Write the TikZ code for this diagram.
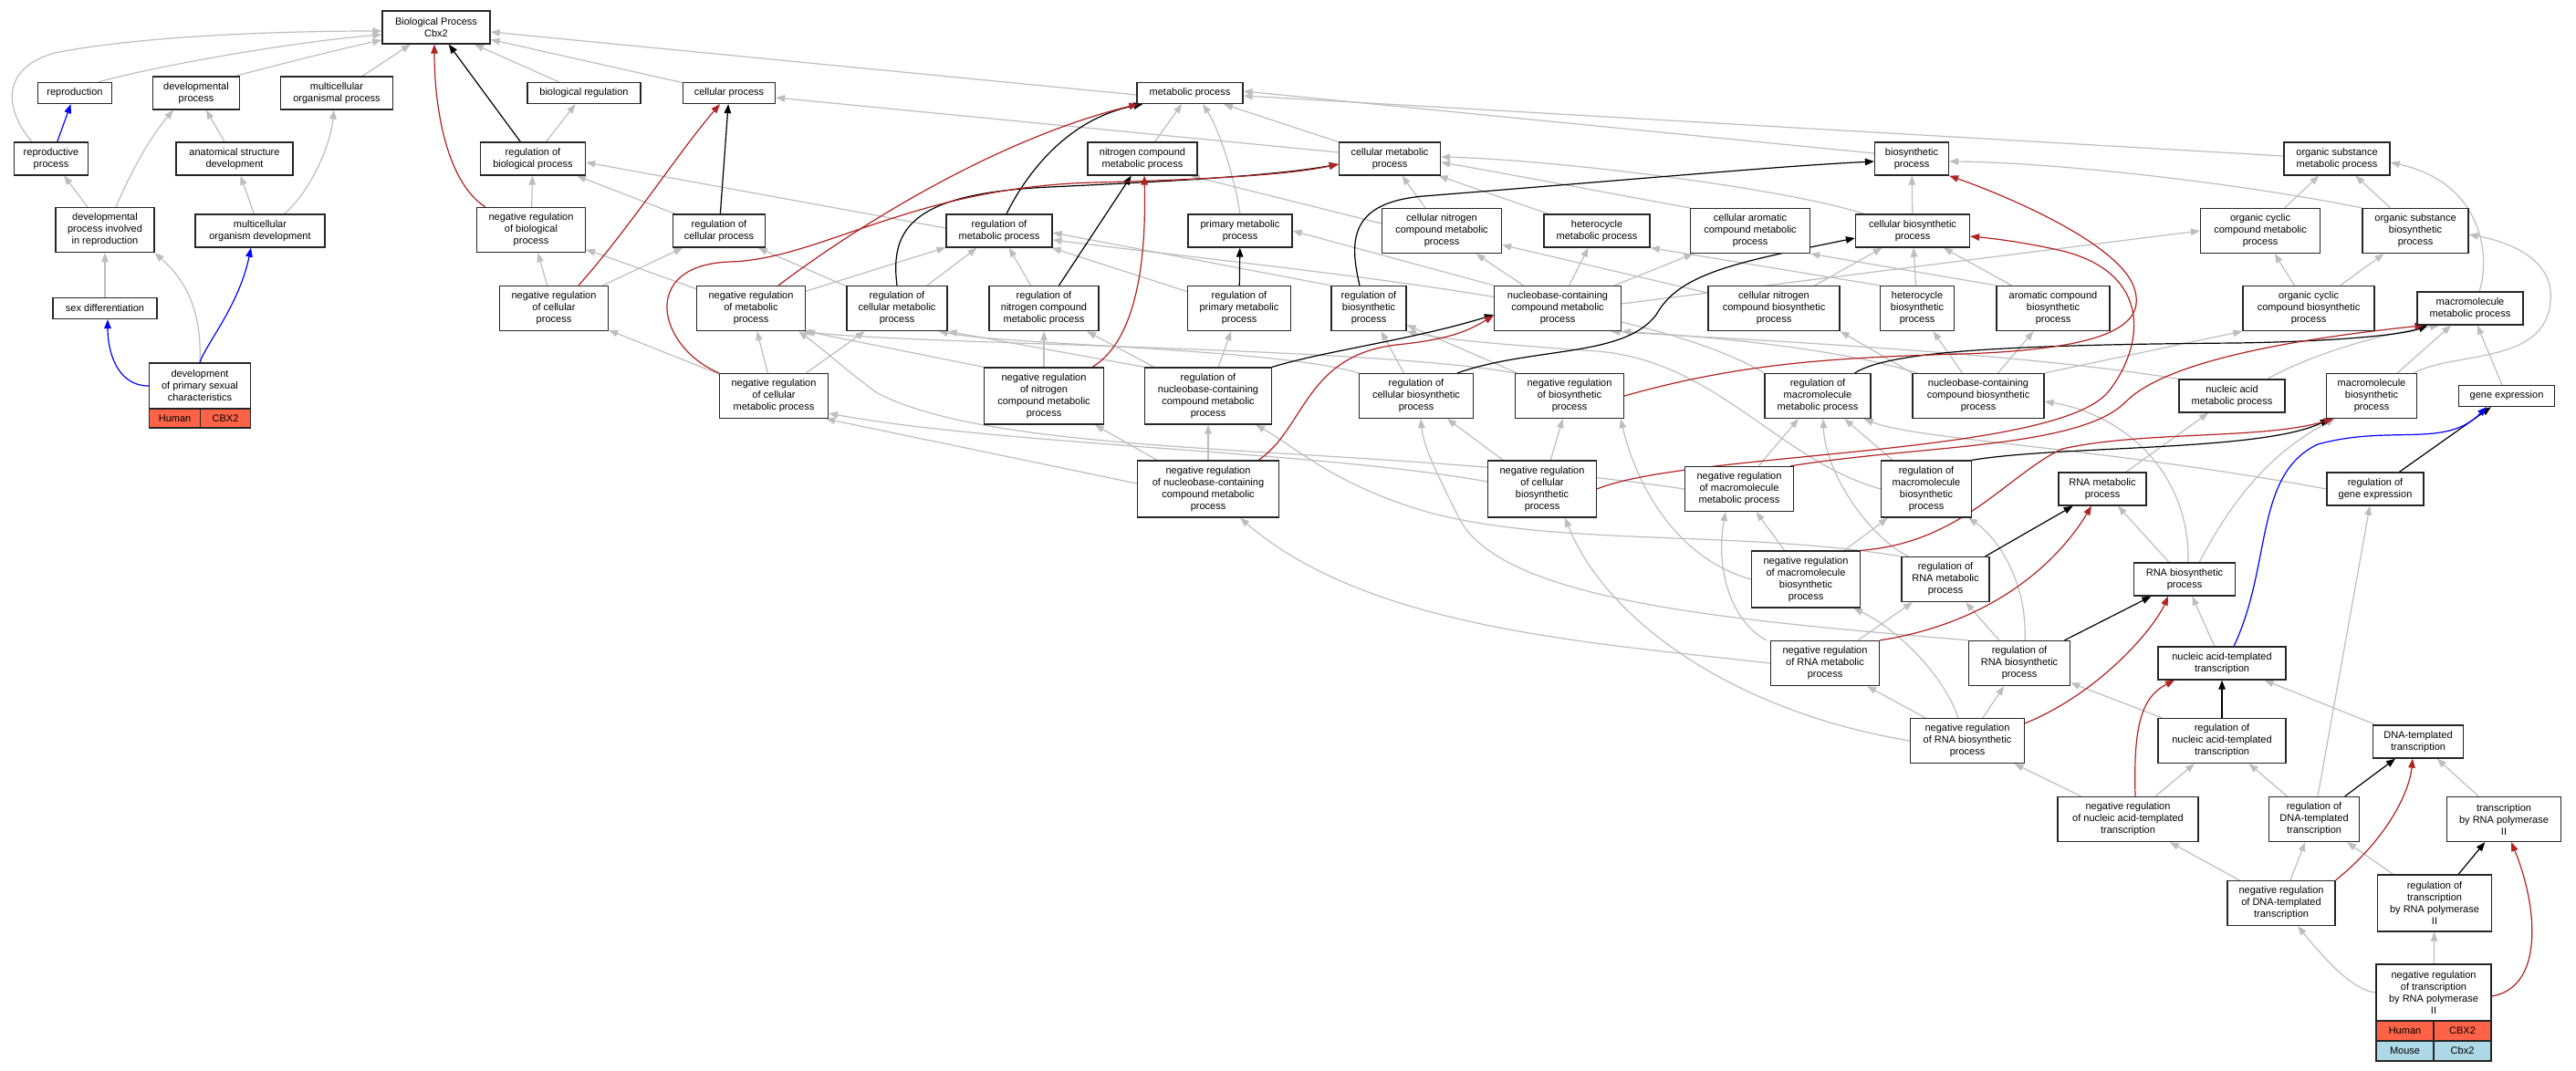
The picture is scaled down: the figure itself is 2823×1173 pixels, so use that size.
\documentclass[tikz,border=0pt]{standalone}
\usepackage{fontspec}
\setmainfont{Liberation Sans}
\usetikzlibrary{arrows.meta}
\usetikzlibrary{backgrounds}
\definecolor{isagray}{HTML}{BEBEBE}
\definecolor{firebrick}{HTML}{B22222}
\definecolor{humancell}{HTML}{FF6347}
\definecolor{mousecell}{HTML}{ADD8E6}

\begin{document}
\begin{tikzpicture}[>={Triangle[length=10pt,width=7.5pt]}, x=1pt, y=-1pt,
  term/.style={draw=black!85, line width=1.3pt, fill=white, align=center, inner sep=0pt, font={\fontsize{11}{13}\selectfont}},
  isa/.style={->, isagray, line width=1.2pt},
  reg/.style={->, black, line width=1.2pt},
  negreg/.style={->, firebrick, line width=1.2pt},
  partof/.style={->, blue, line width=1.2pt}]
  \useasboundingbox (0,0) rectangle (2823,1173);

  % left part
  \node[term, minimum width=118pt, minimum height=36pt] (bp) at (478,30) {Biological Process\\Cbx2};
  \node[term, minimum width=81pt, minimum height=23pt] (repro) at (82,102) {reproduction};
  \node[term, minimum width=95pt, minimum height=36pt] (devp) at (215,102) {developmental\\process};
  \node[term, minimum width=123pt, minimum height=36pt] (mop) at (369,102) {multicellular\\organismal process};
  \node[term, minimum width=81pt, minimum height=36pt] (reprop) at (56,174) {reproductive\\process};
  \node[term, minimum width=128pt, minimum height=36pt] (asd) at (257,174) {anatomical structure\\development};
  \node[term, minimum width=108pt, minimum height=49pt] (dpir) at (115,252) {developmental\\process involved\\in reproduction};
  \node[term, minimum width=142pt, minimum height=36pt] (mod) at (285,253) {multicellular\\organism development};
  \node[term, minimum width=114pt, minimum height=23pt] (sexd) at (115,338) {sex differentiation};
  \node[term, minimum width=111pt, minimum height=50pt] (dpsc) at (219,423) {development\\of primary sexual\\characteristics};
  \node[term, fill=humancell, minimum width=56pt, minimum height=21pt] (dpschuman) at (191.6,458.5) {Human};
  \node[term, fill=humancell, minimum width=55pt, minimum height=21pt] (dpscgene) at (247,458.5) {CBX2};

  % regulation of biological process
  \node[term, minimum width=124pt, minimum height=23pt] (breg) at (640,102) {biological regulation};
  \node[term, minimum width=101pt, minimum height=23pt] (cellp) at (799,102) {cellular process};
  \node[term, minimum width=115pt, minimum height=36pt] (rbp) at (584,174) {regulation of\\biological process};
  \node[term, minimum width=119pt, minimum height=49pt] (nrbp) at (582,252) {negative regulation\\of biological\\process};
  \node[term, minimum width=101pt, minimum height=36pt] (rcp) at (788,253) {regulation of\\cellular process};
  \node[term, minimum width=119pt, minimum height=49pt] (nrcp) at (607,338) {negative regulation\\of cellular\\process};
  \node[term, minimum width=119pt, minimum height=49pt] (nrmp) at (823,338) {negative regulation\\of metabolic\\process};
  \node[term, minimum width=110pt, minimum height=49pt] (rcmp) at (983,338) {regulation of\\cellular metabolic\\process};
  \node[term, minimum width=119pt, minimum height=49pt] (nrcmp) at (848,434) {negative regulation\\of cellular\\metabolic process};

  % metabolism
  \node[term, minimum width=116pt, minimum height=23pt] (metp) at (1304,102) {metabolic process};
  \node[term, minimum width=120pt, minimum height=36pt] (ncmp) at (1252,174) {nitrogen compound\\metabolic process};
  \node[term, minimum width=111pt, minimum height=36pt] (cmp) at (1523,174) {cellular metabolic\\process};
  \node[term, minimum width=116pt, minimum height=36pt] (rmp) at (1095,253) {regulation of\\metabolic process};
  \node[term, minimum width=114pt, minimum height=36pt] (pmp) at (1359,253) {primary metabolic\\process};
  \node[term, minimum width=131pt, minimum height=49pt] (cncmp) at (1580,253) {cellular nitrogen\\compound metabolic\\process};
  \node[term, minimum width=120pt, minimum height=49pt] (rncmp) at (1144,338) {regulation of\\nitrogen compound\\metabolic process};
  \node[term, minimum width=113pt, minimum height=49pt] (rpmp) at (1358,338) {regulation of\\primary metabolic\\process};
  \node[term, minimum width=82pt, minimum height=49pt] (rbsp) at (1500,338) {regulation of\\biosynthetic\\process};
  \node[term, minimum width=131pt, minimum height=62pt] (nrncmp) at (1144,434) {negative regulation\\of nitrogen\\compound metabolic\\process};
  \node[term, minimum width=139pt, minimum height=62pt] (rnbcmp) at (1324,434) {regulation of\\nucleobase-containing\\compound metabolic\\process};
  \node[term, minimum width=125pt, minimum height=49pt] (rcbsp) at (1552,434) {regulation of\\cellular biosynthetic\\process};
  \node[term, minimum width=116pt, minimum height=36pt] (hmp) at (1750,253) {heterocycle\\metabolic process};
  \node[term, minimum width=131pt, minimum height=49pt] (cacmp) at (1918,253) {cellular aromatic\\compound metabolic\\process};
  \node[term, minimum width=81pt, minimum height=36pt] (bsp) at (2095,174) {biosynthetic\\process};
  \node[term, minimum width=139pt, minimum height=49pt] (nbcmp) at (1707,338) {nucleobase-containing\\compound metabolic\\process};
  \node[term, minimum width=144pt, minimum height=49pt] (cncbp) at (1944,338) {cellular nitrogen\\compound biosynthetic\\process};
  \node[term, minimum width=125pt, minimum height=36pt] (cbsp) at (2096,253) {cellular biosynthetic\\process};
  \node[term, minimum width=119pt, minimum height=49pt] (nrbsp) at (1720,434) {negative regulation\\of biosynthetic\\process};
  \node[term, minimum width=116pt, minimum height=49pt] (rmmp) at (1992,434) {regulation of\\macromolecule\\metabolic process};
  \node[term, minimum width=116pt, minimum height=36pt] (osmp) at (2561,174) {organic substance\\metabolic process};
  \node[term, minimum width=131pt, minimum height=49pt] (occmp) at (2477,253) {organic cyclic\\compound metabolic\\process};
  \node[term, minimum width=116pt, minimum height=49pt] (osbp) at (2647,253) {organic substance\\biosynthetic\\process};
  \node[term, minimum width=81pt, minimum height=49pt] (hbp) at (2101,338) {heterocycle\\biosynthetic\\process};
  \node[term, minimum width=124pt, minimum height=49pt] (acbp) at (2250,338) {aromatic compound\\biosynthetic\\process};
  \node[term, minimum width=144pt, minimum height=49pt] (occbp) at (2530,338) {organic cyclic\\compound biosynthetic\\process};
  \node[term, minimum width=116pt, minimum height=36pt] (mmp) at (2707,338) {macromolecule\\metabolic process};
  \node[term, minimum width=144pt, minimum height=49pt] (nbcbp) at (2168,434) {nucleobase-containing\\compound biosynthetic\\process};
  \node[term, minimum width=116pt, minimum height=36pt] (namp) at (2446,434) {nucleic acid\\metabolic process};
  \node[term, minimum width=99pt, minimum height=49pt] (mbp) at (2599,434) {macromolecule\\biosynthetic\\process};
  \node[term, minimum width=105pt, minimum height=23pt] (gexp) at (2747,434) {gene expression};

  % negative regulation and transcription
  \node[term, minimum width=155pt, minimum height=62pt] (nrnbcmp) at (1324,536) {negative regulation\\of nucleobase-containing\\compound metabolic\\process};
  \node[term, minimum width=119pt, minimum height=62pt] (nrcbsp) at (1690,536) {negative regulation\\of cellular\\biosynthetic\\process};
  \node[term, minimum width=119pt, minimum height=49pt] (nrmmp) at (1906,536) {negative regulation\\of macromolecule\\metabolic process};
  \node[term, minimum width=99pt, minimum height=62pt] (rmbp) at (2111,536) {regulation of\\macromolecule\\biosynthetic\\process};
  \node[term, minimum width=96pt, minimum height=36pt] (rnamp) at (2304,536) {RNA metabolic\\process};
  \node[term, minimum width=106pt, minimum height=36pt] (rgexp) at (2603,536) {regulation of\\gene expression};
  \node[term, minimum width=119pt, minimum height=62pt] (nrmbp) at (1979,635) {negative regulation\\of macromolecule\\biosynthetic\\process};
  \node[term, minimum width=96pt, minimum height=49pt] (rrmp) at (2132,635) {regulation of\\RNA metabolic\\process};
  \node[term, minimum width=111pt, minimum height=36pt] (rnabp) at (2394,635) {RNA biosynthetic\\process};
  \node[term, minimum width=119pt, minimum height=49pt] (nrrmp) at (2000,727) {negative regulation\\of RNA metabolic\\process};
  \node[term, minimum width=111pt, minimum height=49pt] (rrbp) at (2213,727) {regulation of\\RNA biosynthetic\\process};
  \node[term, minimum width=140pt, minimum height=36pt] (natt) at (2435,727) {nucleic acid-templated\\transcription};
  \node[term, minimum width=125pt, minimum height=49pt] (nrrbp) at (2156,812) {negative regulation\\of RNA biosynthetic\\process};
  \node[term, minimum width=140pt, minimum height=49pt] (rnatt) at (2435,812) {regulation of\\nucleic acid-templated\\transcription};
  \node[term, minimum width=99pt, minimum height=36pt] (dtt) at (2650,813) {DNA-templated\\transcription};
  \node[term, minimum width=154pt, minimum height=49pt] (nrnatt) at (2332,898) {negative regulation\\of nucleic acid-templated\\transcription};
  \node[term, minimum width=99pt, minimum height=49pt] (rdtt) at (2536,898) {regulation of\\DNA-templated\\transcription};
  \node[term, minimum width=125pt, minimum height=49pt] (trp2) at (2744,898) {transcription\\by RNA polymerase\\II};
  \node[term, minimum width=118pt, minimum height=49pt] (nrdtt) at (2500,990) {negative regulation\\of DNA-templated\\transcription};
  \node[term, minimum width=125pt, minimum height=62pt] (rtrp2) at (2668,990) {regulation of\\transcription\\by RNA polymerase\\II};
  \node[term, minimum width=126pt, minimum height=62pt] (nrtrp2) at (2667,1088) {negative regulation\\of transcription\\by RNA polymerase\\II};
  \node[term, fill=humancell, minimum width=63pt, minimum height=22pt] (nrtrp2human) at (2635.5,1130) {Human};
  \node[term, fill=humancell, minimum width=63pt, minimum height=22pt] (nrtrp2gene) at (2698.5,1130) {CBX2};
  \node[term, fill=mousecell, minimum width=63pt, minimum height=22pt] (nrtrp2mouse) at (2635.5,1152) {Mouse};
  \node[term, fill=mousecell, minimum width=63pt, minimum height=22pt] (nrtrp2mgene) at (2698.5,1152) {Cbx2};

  \begin{scope}[on background layer]
  \fill[white] (0,0) rectangle (2823,1173);
  % is_a
  \draw[isa] ([xshift=-15pt]repro.north east) .. controls (180,70) and (330,45) .. ([yshift=-8pt]bp.west);
  \draw[isa] ([xshift=20pt]reprop.north west) .. controls (5,120) and (0,75) .. (60,58) .. controls (150,40) and (300,34) .. ([yshift=-4pt]bp.west);
  \draw[isa] ([xshift=-5pt]devp.north east) .. controls (300,72) and (380,52) .. ([yshift=-14pt]bp.west);
  \draw[isa] (mop) -- (bp);
  \draw[isa] (dpir) -- (reprop);
  \draw[isa] ([xshift=12pt]dpir.north) .. controls (145,185) and (165,150) .. ([xshift=-25pt]devp.south);
  \draw[isa] (asd) -- (devp);
  \draw[isa] (mod) -- (asd);
  \draw[isa] ([xshift=-45pt]mod.north east) .. controls (340,210) and (362,160) .. ([xshift=-3pt]mop.south);
  \draw[isa] (sexd) -- (dpir);
  \draw[isa] (dpsc.north) .. controls (222,330) and (195,300) .. (dpir.south east);
  \draw[isa] (breg) -- (bp);
  \draw[isa] (cellp) -- (bp);
  \draw[isa] ([yshift=-2pt]metp.west) -- ([yshift=-5pt]bp.east);
  \draw[isa] (rbp) -- (breg);
  \draw[isa] (nrbp) -- (rbp);
  \draw[isa] (rcp) -- (rbp);
  \draw[isa] (nrcp) -- (nrbp);
  \draw[isa] (nrcp) -- (rcp);
  \draw[isa] (nrmp) -- (nrbp);
  \draw[isa] (nrmp) -- (rmp);
  \draw[isa] ([yshift=3pt]rmp.west) -- ([yshift=-4pt]rbp.east);
  \draw[isa] (rcmp) -- (rcp);
  \draw[isa] (rcmp) -- (rmp);
  \draw[isa] (nrcmp) -- (nrcp);
  \draw[isa] (nrcmp) -- (nrmp);
  \draw[isa] (nrcmp) -- (rcmp);
  \draw[isa] (ncmp) -- (metp);
  \draw[isa] (pmp.north) .. controls (1352,190) and (1335,140) .. ([xshift=14pt]metp.south);
  \draw[isa] (cmp) -- (metp);
  \draw[isa] ([yshift=7pt]cmp.west) -- ([yshift=-5pt]cellp.east);
  \draw[isa] ([yshift=6pt]bsp.west) -- ([yshift=2pt]metp.east);
  \draw[isa] ([yshift=3pt]osmp.west) -- ([yshift=-3pt]metp.east);
  \draw[isa] ([yshift=8pt]cncmp.west) -- ([xshift=-8pt]ncmp.south east);
  \draw[isa] (cncmp) -- (cmp);
  \draw[isa] (hmp) -- (cmp);
  \draw[isa] (cacmp.north west) .. controls (1780,215) and (1650,190) .. ([yshift=-4pt]cmp.east);
  \draw[isa] ([xshift=10pt]cbsp.north west) .. controls (1950,205) and (1700,175) .. ([yshift=2pt]cmp.east);
  \draw[isa] (cbsp) -- (bsp);
  \draw[isa] (rncmp) -- (rmp);
  \draw[isa] (rpmp) -- (rmp);
  \draw[isa] (rbsp.north west) -- ([yshift=-2pt]rmp.east);
  \draw[isa] (rmmp.north west) .. controls (1800,330) and (1450,300) .. ([yshift=-10pt]rmp.east);
  \draw[isa] (nrncmp) -- (rncmp);
  \draw[isa] (nrncmp.north west) -- (nrmp.south east);
  \draw[isa] (rnbcmp.north west) -- (rcmp.south east);
  \draw[isa] (rnbcmp) -- (rncmp);
  \draw[isa] (rnbcmp) -- (rpmp);
  \draw[isa] (rcbsp) -- (rbsp);
  \draw[isa] (rcbsp.north west) .. controls (1400,382) and (1100,378) .. ([xshift=-10pt]rcmp.south east);
  \draw[isa] (nbcmp) -- (hmp);
  \draw[isa] (nbcmp) -- (cacmp);
  \draw[isa] (nbcmp) -- (cncmp);
  \draw[isa] (nbcmp.north west) -- (pmp.east);
  \draw[isa] ([yshift=5pt]nbcmp.east) -- (occmp.west);
  \draw[isa] (cncbp) -- (cncmp);
  \draw[isa] (cncbp) -- (cbsp);
  \draw[isa] (nrbsp.north west) .. controls (1500,380) and (1000,378) .. ([xshift=-4pt]nrmp.south east);
  \draw[isa] (nrbsp) -- (rbsp);
  \draw[isa] (occmp) -- (osmp);
  \draw[isa] (osbp) -- (osmp);
  \draw[isa] (osbp.north west) .. controls (2450,200) and (2250,178) .. ([yshift=-3pt]bsp.east);
  \draw[isa] ([xshift=10pt]mmp.north) .. controls (2730,280) and (2720,200) .. ([yshift=-4pt]osmp.east);
  \draw[isa] (hbp) -- (cbsp);
  \draw[isa] (hbp.north west) -- (hmp.south east);
  \draw[isa] (acbp) -- (cbsp);
  \draw[isa] (acbp.north west) -- (cacmp.south east);
  \draw[isa] (occbp) -- (occmp);
  \draw[isa] (occbp) -- (osbp);
  \draw[isa] (nbcbp) -- (hbp);
  \draw[isa] (nbcbp) -- (acbp);
  \draw[isa] (nbcbp.north east) -- (occbp.south west);
  \draw[isa] (nbcbp.north west) -- (cncbp.south east);
  \draw[isa] ([xshift=6pt]nbcbp.north west) .. controls (2000,378) and (1850,368) .. (nbcmp.south east);
  \draw[isa] (namp.north west) .. controls (2200,385) and (1900,372) .. ([xshift=-12pt]nbcmp.south east);
  \draw[isa] ([xshift=-20pt]namp.north east) .. controls (2530,390) and (2600,368) .. ([xshift=25pt]mmp.south west);
  \draw[isa] (mbp) -- (mmp);
  \draw[isa] ([xshift=-4pt]mbp.north east) .. controls (2690,385) and (2790,400) .. (2795,330) .. controls (2800,285) and (2750,265) .. ([yshift=-4pt]osbp.east);
  \draw[isa] (gexp) -- (mmp);
  \draw[isa] (nrnbcmp) -- (rnbcmp);
  \draw[isa] (nrnbcmp) -- (nrncmp);
  \draw[isa] ([yshift=6pt]nrnbcmp.west) -- ([xshift=-3pt]nrcmp.south east);
  \draw[isa] (nrcbsp) -- (nrbsp);
  \draw[isa] (nrcbsp) -- (rcbsp);
  \draw[isa] ([yshift=8pt]nrcbsp.west) .. controls (1450,495) and (1100,488) .. ([yshift=6pt]nrcmp.south east);
  \draw[isa] (nrmmp) -- (rmmp);
  \draw[isa] (nrmmp.west) .. controls (1500,485) and (1100,505) .. (960,430) .. controls (920,400) and (905,385) .. ([xshift=-8pt]nrmp.south east);
  \draw[isa] (rmbp) -- (rmmp);
  \draw[isa] (rmbp.west) .. controls (1950,505) and (1880,395) .. (1750,385) .. controls (1650,378) and (1580,372) .. (rbsp.south east);
  \draw[isa] (rnamp) -- (namp);
  \draw[isa] (rgexp.west) .. controls (2300,490) and (2100,482) .. ([xshift=-8pt]rmmp.south east);
  \draw[isa] (nrmbp) -- (rmbp);
  \draw[isa] (nrmbp) -- (nrmmp);
  \draw[isa] (nrmbp.west) .. controls (1830,610) and (1790,520) .. ([xshift=-4pt]nrbsp.south east);
  \draw[isa] ([xshift=8pt]rrmp.north west) .. controls (2050,590) and (2000,520) .. ([xshift=6pt]rmmp.south);
  \draw[isa] (rrmp.north west) .. controls (1900,580) and (1700,600) .. (1560,560) .. controls (1460,530) and (1420,490) .. ([xshift=-18pt]rnbcmp.south east);
  \draw[isa] (rnabp) -- (rnamp);
  \draw[isa] ([xshift=-40pt]rnabp.north east) .. controls (2440,560) and (2480,500) .. ([xshift=10pt]mbp.south west);
  \draw[isa] ([xshift=4pt]rnabp.north) .. controls (2400,520) and (2330,455) .. ([yshift=-6pt]nbcbp.east);
  \draw[isa] (nrrmp) -- (rrmp);
  \draw[isa] (nrrmp.west) .. controls (1750,705) and (1500,690) .. ([xshift=35pt]nrnbcmp.south);
  \draw[isa] ([xshift=-4pt]nrrmp.north west) .. controls (1895,680) and (1880,620) .. ([xshift=-15pt]nrmmp.south);
  \draw[isa] (rrbp) -- (rrmp);
  \draw[isa] (rrbp.north west) .. controls (1900,680) and (1650,660) .. (1600,570) .. controls (1575,520) and (1560,490) .. ([xshift=5pt]rcbsp.south);
  \draw[isa] ([xshift=6pt]rrbp.north) .. controls (2222,640) and (2190,590) .. ([xshift=-4pt]rmbp.south east);
  \draw[isa] (natt) -- (rnabp);
  \draw[isa] (nrrbp) -- (nrrmp);
  \draw[isa] (nrrbp) -- (rrbp);
  \draw[isa] ([xshift=-10pt]nrrbp.north) .. controls (2130,740) and (2080,690) .. ([xshift=-8pt]nrmbp.south east);
  \draw[isa] (nrrbp.west) .. controls (1900,780) and (1760,680) .. ([xshift=25pt]nrcbsp.south);
  \draw[isa] (rnatt) -- (rrbp);
  \draw[isa] (dtt) -- (natt);
  \draw[isa] (nrnatt) -- (nrrbp);
  \draw[isa] (nrnatt) -- (rnatt);
  \draw[isa] (rdtt) -- (rnatt);
  \draw[isa] ([xshift=4pt]rdtt.north) -- ([xshift=-6pt]rgexp.south);
  \draw[isa] (trp2) -- (dtt);
  \draw[isa] (nrdtt) -- (nrnatt);
  \draw[isa] (nrdtt) -- (rdtt);
  \draw[isa] (rtrp2) -- (rdtt);
  \draw[isa] (nrtrp2.west) .. controls (2580,1085) and (2555,1060) .. ([xshift=18pt]nrdtt.south);
  \draw[isa] (nrtrp2) -- (rtrp2);
  % regulates
  \draw[reg] (rbp) -- (bp);
  \draw[reg] (rcp) -- (cellp);
  \draw[reg] ([xshift=8pt]rmp.north) .. controls (1125,190) and (1170,130) .. ([xshift=7pt]metp.south west);
  \draw[reg] (rcmp.north) .. controls (975,250) and (1000,212) .. (1150,205) .. controls (1300,198) and (1400,192) .. ([yshift=-6pt]cmp.west);
  \draw[reg] (rncmp) -- (ncmp);
  \draw[reg] (rpmp) -- (pmp);
  \draw[reg] ([xshift=-10pt]rbsp.north) .. controls (1478,262) and (1480,222) .. (1560,215) .. controls (1800,196) and (1950,182) .. ([yshift=-3pt]bsp.west);
  \draw[reg] (rnbcmp.north east) .. controls (1450,385) and (1550,372) .. ([yshift=-7pt]nbcmp.west);
  \draw[reg] ([xshift=-18pt]rcbsp.north east) .. controls (1680,380) and (1780,392) .. (1815,345) .. controls (1840,300) and (1900,288) .. ([yshift=-8pt]cbsp.west);
  \draw[reg] ([xshift=-18pt]rmmp.north east) .. controls (2070,385) and (2200,378) .. (2450,376) .. controls (2580,374) and (2640,365) .. ([xshift=12pt]mmp.south west);
  \draw[reg] (rmbp.north east) .. controls (2260,488) and (2480,495) .. ([xshift=4pt]mbp.south west);
  \draw[reg] (rgexp) -- (gexp);
  \draw[reg] (rrmp) -- (rnamp);
  \draw[reg] (rrbp) -- (rnabp);
  \draw[reg] (rnatt) -- (natt);
  \draw[reg] (rdtt) -- (dtt);
  \draw[reg] (rtrp2) -- (trp2);
  % negatively regulates
  \draw[negreg] ([xshift=10pt]nrbp.north west) .. controls (490,200) and (476,120) .. ([xshift=-2pt]bp.south);
  \draw[negreg] ([xshift=27pt]nrcp.north) .. controls (690,250) and (745,165) .. ([xshift=-10pt]cellp.south);
  \draw[negreg] ([xshift=30pt]nrmp.north) .. controls (950,240) and (1100,150) .. ([xshift=2pt]metp.south west);
  \draw[negreg] (nrcmp.north west) .. controls (720,380) and (700,290) .. (800,287) .. controls (900,284) and (1000,205) .. (1200,200) .. controls (1350,196) and (1420,190) .. ([yshift=-6pt]cmp.west);
  \draw[negreg] ([xshift=-13pt]nrncmp.north east) .. controls (1250,370) and (1256,270) .. ([xshift=2pt]ncmp.south);
  \draw[negreg] ([xshift=-23pt]nrnbcmp.north east) .. controls (1430,470) and (1430,390) .. (1530,378) .. controls (1590,372) and (1610,362) .. ([yshift=-8pt]nbcmp.west);
  \draw[negreg] (nrbsp.east) .. controls (1900,400) and (2000,392) .. (2150,388) .. controls (2300,383) and (2350,360) .. (2340,320) .. controls (2330,270) and (2200,215) .. (bsp.south east);
  \draw[negreg] (nrcbsp.east) .. controls (1850,495) and (2250,500) .. (2310,430) .. controls (2350,380) and (2360,300) .. (2260,275) .. controls (2220,266) and (2190,262) .. ([yshift=-6pt]cbsp.east);
  \draw[negreg] ([xshift=-4pt]nrmmp.north east) .. controls (2100,488) and (2280,492) .. (2330,440) .. controls (2380,390) and (2550,368) .. ([xshift=8pt]mmp.south west);
  \draw[negreg] (nrmbp.north east) .. controls (2150,595) and (2200,520) .. (2260,492) .. controls (2350,472) and (2480,482) .. ([xshift=8pt]mbp.south west);
  \draw[negreg] (nrrmp.north east) .. controls (2200,680) and (2265,600) .. ([xshift=-12pt]rnamp.south);
  \draw[negreg] ([yshift=-6pt]nrrbp.north east) .. controls (2300,760) and (2360,690) .. ([xshift=-18pt]rnabp.south);
  \draw[negreg] ([xshift=8pt]nrnatt.north) .. controls (2338,800) and (2345,765) .. ([xshift=-52pt]natt.south);
  \draw[negreg] (nrdtt.north east) .. controls (2615,920) and (2640,870) .. ([xshift=-6pt]dtt.south);
  \draw[negreg] ([yshift=-4pt]nrtrp2.east) .. controls (2790,1082) and (2780,990) .. ([xshift=8pt]trp2.south);
  % part of
  \draw[partof] (reprop) -- (repro);
  \draw[partof] (dpsc.west) .. controls (128,423) and (118,385) .. ([xshift=3pt]sexd.south);
  \draw[partof] (dpsc.north) .. controls (225,378) and (262,335) .. ([xshift=-10pt]mod.south);
  \draw[partof] ([xshift=13pt]natt.north) .. controls (2490,620) and (2470,520) .. (2540,487) .. controls (2620,465) and (2680,492) .. ([xshift=-22pt]gexp.south);
  \end{scope}
\end{tikzpicture}
\end{document}
